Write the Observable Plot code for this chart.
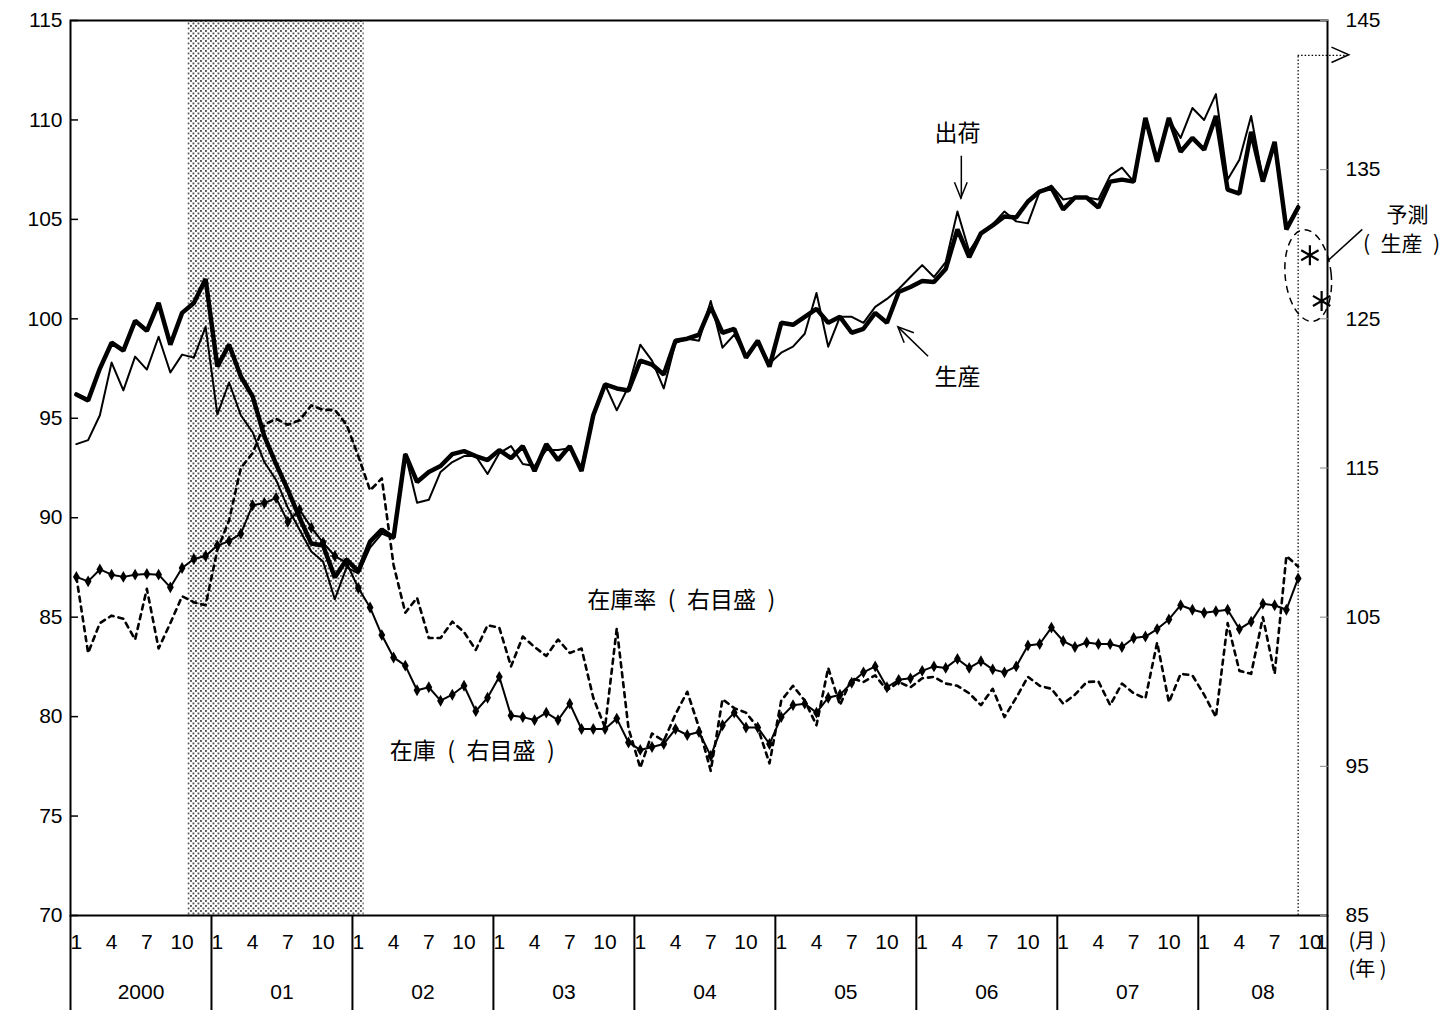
<!DOCTYPE html>
<html>
<head>
<meta charset="utf-8">
<script src="https://cdn.jsdelivr.net/npm/d3@7"></script>
<script src="https://cdn.jsdelivr.net/npm/@observablehq/plot@0.6"></script>
<style>
  html, body { margin: 0; padding: 0; background: #fff; }
  #chart { width: 1444px; height: 1012px; }
</style>
</head>
<body>
<div id="chart"></div>
<script>
// ---------- data ----------
const years = ["2000", "01", "02", "03", "04", "05", "06", "07", "08"];
const labelledMonths = [1, 4, 7, 10];
const leftTicks = [70, 75, 80, 85, 90, 95, 100, 105, 110, 115];
const rightTicks = [85, 95, 105, 115, 125, 135, 145];

// 生産 (production), Jan 2000 – Sep 2008
const production = [
  96.2, 95.9, 97.5, 98.8, 98.4, 99.9, 99.4, 100.8, 98.7, 100.3, 100.8, 102.0,
  97.6, 98.7, 97.1, 96.1, 94.1, 92.7, 91.4, 90.0, 88.7, 88.6, 87.0, 87.9,
  87.3, 88.8, 89.4, 89.0, 93.2, 91.8, 92.3, 92.6, 93.2, 93.35, 93.1, 92.9,
  93.4, 93.0, 93.6, 92.35, 93.7, 92.9, 93.6, 92.35, 95.15, 96.7, 96.5, 96.4,
  97.9, 97.7, 97.2, 98.9, 99.0, 99.2, 100.6, 99.3, 99.5, 98.05, 98.9, 97.6,
  99.8, 99.7, 100.1, 100.5, 99.8, 100.1, 99.3, 99.5, 100.3, 99.8, 101.35, 101.6,
  101.9, 101.85, 102.5, 104.5, 103.1, 104.3, 104.7, 105.15, 105.1, 105.9, 106.4, 106.6,
  105.5, 106.1, 106.1, 105.6, 106.9, 107.0, 106.9, 110.1, 107.9, 110.1, 108.4, 109.1,
  108.5, 110.2, 106.5, 106.3, 109.4, 106.9, 108.9, 104.5, 105.6
];
// 出荷 (shipments)
const shipments = [
  93.7, 93.9, 95.15, 97.8, 96.4, 98.1, 97.45, 99.1, 97.3, 98.2, 98.05, 99.6,
  95.2, 96.8, 95.15, 94.3, 92.8, 91.9, 90.5, 89.4, 88.3, 87.8, 85.9, 87.5,
  87.2, 88.5, 89.2, 88.95, 93.2, 90.75, 90.9, 92.3, 92.8, 93.1, 93.1, 92.2,
  93.25, 93.6, 92.7, 92.6, 93.4, 93.4, 93.5, 92.55, 95.2, 96.7, 95.4, 96.6,
  98.7, 97.9, 96.5, 98.8, 99.0, 98.9, 100.9, 98.55, 99.2, 98.1, 98.9, 97.75,
  98.3, 98.6, 99.25, 101.3, 98.6, 100.1, 100.1, 99.8, 100.6, 101.0, 101.5, 102.1,
  102.7, 102.1, 102.85, 105.4, 103.4, 104.3, 104.75, 105.4, 104.9, 104.8, 106.4, 106.7,
  106.0, 106.1, 106.1, 106.0, 107.2, 107.6, 106.9, 110.0, 108.1, 110.0, 109.1, 110.6,
  110.0, 111.3, 107.0, 108.0, 110.2, 107.0, 108.7, 104.6, 105.7
];
// 在庫 (inventory, right scale)
const inventory = [
  107.7, 107.4, 108.2, 107.85, 107.7, 107.85, 107.9, 107.85, 107.0, 108.3, 108.9, 109.1,
  109.8, 110.1, 110.6, 112.5, 112.65, 113.0, 111.4, 112.2, 111.0, 110.0, 109.1, 108.65,
  106.95, 105.65, 103.8, 102.3, 101.75, 100.1, 100.3, 99.4, 99.8, 100.4, 98.7, 99.6,
  101.0, 98.4, 98.3, 98.1, 98.6, 98.1, 99.2, 97.5, 97.5, 97.5, 98.2, 96.6,
  96.1, 96.3, 96.5, 97.5, 97.1, 97.3, 95.7, 97.75, 98.6, 97.6, 97.6, 96.5,
  98.3, 99.1, 99.2, 98.6, 99.6, 99.8, 100.6, 101.3, 101.7, 100.3, 100.8, 100.9,
  101.4, 101.7, 101.6, 102.2, 101.6, 102.05, 101.5, 101.3, 101.7, 103.1, 103.2, 104.3,
  103.4, 103.0, 103.3, 103.2, 103.2, 103.0, 103.6, 103.7, 104.2, 104.85, 105.8, 105.5,
  105.3, 105.4, 105.5, 104.2, 104.7, 105.9, 105.8, 105.5, 107.6
];
// 在庫率 (inventory ratio, right scale)
const inventoryRatio = [
  107.7, 102.6, 104.6, 105.1, 104.9, 103.5, 106.9, 102.9, 104.6, 106.4, 106.0, 105.8,
  109.5, 111.5, 115.0, 116.0, 117.9, 118.3, 117.9, 118.2, 119.2, 118.9, 118.9, 117.9,
  115.8, 113.5, 114.3, 108.5, 105.3, 106.3, 103.6, 103.6, 104.7, 104.0, 102.8, 104.45,
  104.3, 101.7, 103.7, 103.0, 102.4, 103.5, 102.6, 102.9, 99.6, 97.6, 104.25, 97.55,
  94.9, 97.2, 96.7, 98.5, 100.0, 97.6, 94.7, 99.5, 98.9, 98.6, 97.6, 95.2,
  99.4, 100.4, 99.4, 97.75, 101.6, 99.1, 100.9, 100.65, 101.1, 100.1, 100.65, 100.3,
  100.9, 101.0, 100.55, 100.4, 99.9, 99.1, 100.2, 98.3, 99.6, 101.0, 100.4, 100.2,
  99.2, 99.8, 100.65, 100.7, 99.1, 100.55, 99.9, 99.55, 103.3, 99.3, 101.2, 101.1,
  99.8, 98.3, 104.6, 101.4, 101.2, 105.0, 101.2, 109.1, 108.4
];
// 予測 (production forecast), Oct & Nov 2008
const forecastProduction = [103.2, 100.9];
// shaded period: Nov 2000 – Jan 2002 (month indices)
const recession = [{start: 10, end: 24}];

// ---------- derived tables ----------
const months = [];
years.forEach((y, yi) => {
  for (let m = 1; m <= 12; m++) {
    if (yi === years.length - 1 && m > 11) break;
    months.push({i: months.length, year: yi, month: m});
  }
});
const lastIndex = months.length - 1;               // Nov 2008
const rightToLeft = v => 70 + (v - 85) * 45 / 60;  // right scale 85–145 onto left 70–115
const leftToRight = v => Math.round(85 + (v - 70) * 60 / 45);

const series = arr => arr.map((v, i) => ({i, v}));
const prodData = series(production);
const shipData = series(shipments);
const invData = series(inventory).map(d => ({...d, v: rightToLeft(d.v)}));
const ratioData = series(inventoryRatio).map(d => ({...d, v: rightToLeft(d.v)}));
const fcData = forecastProduction.map((v, k) => ({i: production.length + k, v}));

const monthTicks = months.filter(d => labelledMonths.includes(d.month));
monthTicks.push(months[lastIndex]);                   // stray "1" beside the last "10"
const monthLabel = new Map(monthTicks.map(d => [d.i, d.i === lastIndex ? "1" : String(d.month)]));
const yearBounds = years.map((y, yi) => months.find(d => d.year === yi).i - 0.5).concat([lastIndex + 0.5]);
const yearCenters = years.map((y, yi) => {
  const ms = months.filter(d => d.year === yi);
  return (ms[0].i + ms[ms.length - 1].i) / 2;
});
const yearLabel = new Map(yearCenters.map((c, k) => [c, years[k]]));

const latin = "Liberation Sans, Arial, Helvetica, sans-serif";
const cjk = "Noto Sans CJK JP, Noto Sans CJK SC, sans-serif";
const forecastLineY = 113.25;
const lastActual = production.length - 1;
const ensp = "\u2002";

const plot = Plot.plot({
  width: 1444,
  height: 1012,
  marginLeft: 70,
  marginRight: 117,
  marginTop: 20,
  marginBottom: 97,
  x: {type: "linear", domain: [-0.5, lastIndex + 0.5], axis: null},
  y: {domain: [70, 115], axis: null},
  style: {fontFamily: latin, fontSize: "21px", color: "#000", background: "#fff", overflow: "visible"},
  marks: [
    // shaded period
    Plot.rect(recession, {x1: d => d.start - 0.5, x2: d => d.end + 0.5, y1: 70, y2: 115, fill: "url(#dots)"}),
    Plot.frame({stroke: "#000", strokeWidth: 2}),

    // left axis
    Plot.axisY({ticks: leftTicks, anchor: "left", label: null, tickSize: -8, tickFormat: () => "", strokeWidth: 1.5}),
    Plot.axisY({ticks: leftTicks, anchor: "left", label: null, tickSize: 0, tickPadding: 8, fontSize: 21, fill: "#000"}),
    // right axis
    Plot.axisY({ticks: rightTicks.map(rightToLeft), anchor: "right", label: null, tickSize: -8, tickFormat: () => "", strokeWidth: 1, stroke: "#888"}),
    Plot.axisY({ticks: rightTicks.map(rightToLeft), anchor: "right", label: null, tickSize: 0, tickPadding: 18,
      tickFormat: leftToRight, textAnchor: "start", fontSize: 21, fill: "#000"}),
    // bottom: year separators, month labels, year labels
    Plot.axisX({ticks: yearBounds, anchor: "bottom", label: null, tickSize: 95, tickFormat: () => "", strokeWidth: 2}),
    Plot.axisX({ticks: monthTicks.map(d => d.i), anchor: "bottom", label: null, tickSize: 0, tickPadding: 19,
      tickFormat: i => monthLabel.get(i), fontSize: 21, fill: "#000"}),
    Plot.axisX({ticks: yearCenters, anchor: "bottom", label: null, tickSize: 0, tickPadding: 69,
      tickFormat: c => yearLabel.get(c), fontSize: 21, fill: "#000"}),
    Plot.text(["(月 )"], {frameAnchor: "bottom-right", dx: 21, dy: 32, textAnchor: "start", fontFamily: cjk, fontSize: 20}),
    Plot.text(["(年 )"], {frameAnchor: "bottom-right", dx: 21, dy: 60, textAnchor: "start", fontFamily: cjk, fontSize: 20}),

    // forecast marker line (dotted)
    Plot.ruleX([lastActual], {y1: 70, y2: forecastLineY, stroke: "#000", strokeWidth: 1.2, strokeDasharray: "1.5,2"}),
    Plot.ruleY([forecastLineY], {x1: lastActual, x2: lastIndex + 2.3, stroke: "#000", strokeWidth: 1.2, strokeDasharray: "1.5,2"}),

    // series
    Plot.line(ratioData, {x: "i", y: "v", stroke: "#000", strokeWidth: 2.6, strokeDasharray: "5,5"}),
    Plot.line(invData, {x: "i", y: "v", stroke: "#000", strokeWidth: 2}),
    Plot.dot(invData, {x: "i", y: "v", symbol: "diamond", r: 3.6, fill: "#000"}),
    Plot.line(shipData, {x: "i", y: "v", stroke: "#000", strokeWidth: 2}),
    Plot.line(prodData, {x: "i", y: "v", stroke: "#000", strokeWidth: 4.5, strokeLinejoin: "miter"}),
    Plot.dot(fcData, {x: "i", y: "v", symbol: "asterisk", r: 9.5, stroke: "#000", strokeWidth: 2.2}),

    // annotations
    Plot.text(["出荷"], {x: 75.0, y: 109.32, fontFamily: cjk, fontSize: 23}),
    Plot.link([0], {x1: 75.33, y1: 108.2, x2: 75.33, y2: 106.05, stroke: "#000", strokeWidth: 1.5}),
    Plot.text(["生産"], {x: 75.0, y: 97.06, fontFamily: cjk, fontSize: 23}),
    Plot.link([0], {x1: 72.5, y1: 98.12, x2: 69.97, y2: 99.57, stroke: "#000", strokeWidth: 1.5}),
    Plot.text([`在庫率${ensp}(${ensp}右目盛${ensp})`], {x: 51.5, y: 85.85, fontFamily: cjk, fontSize: 23}),
    Plot.text([`在庫${ensp}(${ensp}右目盛${ensp})`], {x: 33.7, y: 78.22, fontFamily: cjk, fontSize: 23}),
    Plot.text(["予測"], {x: 113.3, y: 105.2, fontFamily: cjk, fontSize: 21}),
    Plot.text([`(${ensp}生産${ensp})`], {x: 112.8, y: 103.75, fontFamily: cjk, fontSize: 21}),
    Plot.link([0], {x1: 106.56, y1: 102.94, x2: 109.46, y2: 104.5, stroke: "#000", strokeWidth: 1.5})
  ]
});

const svg = d3.select(plot);
const sx = plot.scale("x"), sy = plot.scale("y");

// dotted pattern for the shaded period
const defs = svg.insert("defs", ":first-child");
const pat = defs.append("pattern").attr("id", "dots").attr("patternUnits", "userSpaceOnUse")
  .attr("width", 5).attr("height", 5);
pat.append("rect").attr("width", 5).attr("height", 5).attr("fill", "#fff");
pat.append("rect").attr("x", 0).attr("y", 0).attr("width", 1.9).attr("height", 1.9).attr("fill", "#555");
pat.append("rect").attr("x", 2.5).attr("y", 2.5).attr("width", 1.9).attr("height", 1.9).attr("fill", "#555");

// open arrowheads (chevrons) placed at data positions
function chevron(xFrom, yFrom, xTip, yTip, len, halfAngleDeg, width) {
  const x0 = sx.apply(xFrom), y0 = sy.apply(yFrom), x1 = sx.apply(xTip), y1 = sy.apply(yTip);
  const a = Math.atan2(y1 - y0, x1 - x0), h = halfAngleDeg * Math.PI / 180;
  const p1 = [x1 - len * Math.cos(a - h), y1 - len * Math.sin(a - h)];
  const p2 = [x1 - len * Math.cos(a + h), y1 - len * Math.sin(a + h)];
  svg.append("path")
    .attr("d", `M${p1[0]},${p1[1]}L${x1},${y1}L${p2[0]},${p2[1]}`)
    .attr("fill", "none").attr("stroke", "#000").attr("stroke-width", width)
    .attr("stroke-linejoin", "miter");
}
chevron(75.33, 108.2, 75.33, 106.05, 17, 22, 1.5);           // 出荷
chevron(72.5, 98.12, 69.97, 99.57, 17, 24, 1.5);             // 生産
chevron(lastActual, forecastLineY, lastIndex + 2.36, forecastLineY, 19, 24, 1.5); // forecast

// dashed ellipse around the forecast points
const ecx = sx.apply(lastActual + 0.9), ecy = sy.apply(d3.mean(forecastProduction) + 0.1);
svg.append("ellipse")
  .attr("cx", ecx).attr("cy", ecy).attr("rx", 23).attr("ry", 46)
  .attr("transform", `rotate(-6 ${ecx} ${ecy})`)
  .attr("fill", "none").attr("stroke", "#000").attr("stroke-width", 1.5).attr("stroke-dasharray", "7,5");

document.getElementById("chart").appendChild(plot);
</script>
</body>
</html>
